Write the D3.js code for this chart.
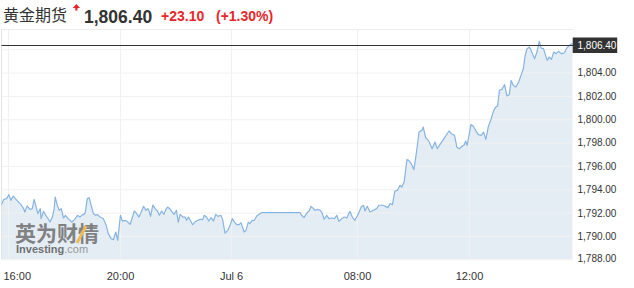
<!DOCTYPE html>
<html>
<head>
<meta charset="utf-8">
<script src="https://cdn.jsdelivr.net/npm/d3@7/dist/d3.min.js"></script>
<style>
  html, body { margin: 0; padding: 0; background: #fff; }
  svg { display: block; }
  text { font-family: "Liberation Sans", Arial, sans-serif; }
  .grid line { stroke: #f1f1f1; }
  .grid path { display: none; }
</style>
</head>
<body>
<svg id="chart" width="634" height="288"></svg>
<script>
// Intraday gold futures quotes, Jul 5 15:46 -> Jul 6 15:41 (local time).
const times = [
  '15:46','15:51','15:57','16:02','16:06','16:11','16:19','16:26','16:33','16:36',
  '16:41','16:47','16:52','16:56','17:01','17:04','17:09','17:11','17:16','17:21',
  '17:25','17:30','17:35','17:39','17:41','17:46','17:50','17:54','17:59','18:03',
  '18:09','18:17','18:24','18:29','18:34','18:40','18:45','18:50','18:54','18:58',
  '19:03','19:08','19:12','19:17','19:24','19:30','19:35','19:41','19:46','19:51',
  '19:55','20:01','20:05','20:11','20:17','20:22','20:27','20:31','20:36','20:41',
  '20:45','20:51','20:56','21:00','21:03','21:06','21:11','21:16','21:21','21:25',
  '21:30','21:35','21:39','21:43','21:48','21:53','21:57','22:02','22:06','22:10',
  '22:16','22:21','22:24','22:28','22:34','22:37','22:42','22:48','22:54','22:59',
  '23:02','23:07','23:12','23:17','23:22','23:27','23:32','23:38','23:42','23:47',
  '23:53','23:58','00:05','00:13','00:22','00:31','00:38','00:50','00:57','01:06',
  '01:12','01:21','01:29','01:38','01:50','01:57','04:23','04:29','04:38','04:45',
  '04:52','04:57','05:05','05:14','05:20','05:30','05:40','05:48','05:55','06:05',
  '06:13','06:24','06:34','06:43','06:51','07:02','07:12','07:21','07:33','07:42',
  '07:52','08:02','08:09','08:14','08:17','08:22','08:28','08:35','08:42','08:47',
  '08:56','09:06','09:11','09:16','09:21','09:27','09:32','09:36','09:41','09:47',
  '09:51','09:56','10:02','10:08','10:13','10:19','10:22','10:27','10:33','10:41',
  '10:47','10:52','10:58','11:05','11:17','11:24','11:29','11:34','11:39','11:46',
  '11:50','11:53','11:56','12:02','12:04','12:09','12:14','12:20','12:26','12:31',
  '12:36','12:41','12:47','12:52','12:57','13:01','13:05','13:10','13:16','13:21',
  '13:26','13:30','13:35','13:40','13:46','13:51','13:56','14:00','14:04','14:09',
  '14:14','14:20','14:25','14:30','14:34','14:39','14:47','14:51','14:56','15:01',
  '15:06','15:11','15:17','15:23','15:29','15:34','15:39','15:41'
];

const prices = [
  1792.69,1793.14,1793.20,1793.54,1793.05,1793.42,1793.05,1792.77,1792.39,1792.05,
  1792.57,1792.28,1792.34,1793.14,1792.39,1791.91,1792.34,1791.49,1792.11,1791.77,
  1791.54,1791.19,1791.62,1792.34,1793.34,1792.57,1792.20,1792.34,1791.54,1791.77,
  1791.49,1791.19,1791.49,1791.77,1791.62,1791.83,1791.91,1793.20,1793.28,1792.63,
  1791.91,1791.77,1791.83,1791.62,1791.49,1790.97,1790.20,1789.77,1789.69,1790.34,
  1789.63,1791.77,1791.28,1791.34,1791.19,1791.00,1791.62,1792.14,1791.91,1791.62,
  1791.97,1792.54,1792.20,1792.34,1792.14,1791.68,1792.65,1792.34,1792.14,1791.77,
  1792.14,1791.85,1792.26,1792.48,1792.31,1792.05,1791.85,1792.20,1791.19,1791.85,
  1791.62,1791.62,1791.34,1791.62,1791.19,1790.97,1791.19,1791.34,1791.43,1791.40,
  1791.77,1791.62,1791.28,1791.57,1791.28,1791.85,1791.68,1791.77,1791.40,1790.25,
  1790.48,1790.91,1791.49,1791.19,1790.97,1790.97,1791.14,1790.34,1790.48,1791.19,
  1791.06,1791.34,1791.34,1791.71,1791.91,1792.00,1792.00,1791.77,1791.57,1791.83,
  1792.05,1792.11,1792.54,1792.34,1792.20,1792.28,1792.20,1791.91,1791.43,1791.77,
  1791.49,1791.54,1791.49,1791.77,1791.25,1791.49,1791.62,1791.54,1792.11,1791.62,
  1791.34,1791.81,1792.48,1792.63,1792.14,1792.54,1792.05,1792.20,1792.34,1792.63,
  1792.63,1792.43,1792.77,1792.69,1793.85,1793.91,1794.34,1794.19,1794.62,1796.54,
  1796.48,1796.20,1795.68,1797.34,1798.90,1799.05,1799.33,1798.42,1798.19,1797.48,
  1798.05,1797.48,1797.85,1798.25,1798.99,1798.71,1798.62,1797.62,1797.48,1797.70,
  1797.82,1798.13,1797.76,1799.05,1799.54,1799.42,1799.05,1798.68,1798.62,1798.90,
  1798.28,1799.33,1799.99,1800.68,1801.04,1801.13,1802.48,1802.56,1802.96,1801.99,
  1802.11,1803.33,1802.90,1802.76,1803.19,1803.76,1804.33,1805.47,1806.05,1806.18,
  1805.76,1805.19,1805.76,1806.67,1806.10,1806.05,1805.04,1805.33,1805.13,1805.76,
  1805.62,1805.82,1805.62,1805.67,1806.10,1806.33,1806.48,1806.40
];

const tickTimes = ['2021-07-05 16:00', '2021-07-05 20:00', '2021-07-06 00:00',
                   '2021-07-06 08:00', '2021-07-06 12:00'];
const tickLabels = ['16:00', '20:00', 'Jul 6', '08:00', '12:00'];
const priceTicks = [1788, 1790, 1792, 1794, 1796, 1798, 1800, 1802, 1804, 1806];

const title = '黄金期货';
const lastLabel = '1,806.40';
const changeLabel = '+23.10';
const changePctLabel = '(+1.30%)';

// ---------------------------------------------------------------------------

const parse = d3.timeParse('%Y-%m-%d %H:%M');

// Times only carry HH:MM; roll the day over whenever the clock goes backwards.
let day = 5, prevMin = -1;
const data = times.map((t, i) => {
  const [h, m] = t.split(':').map(Number);
  if (h * 60 + m < prevMin) day++;
  prevMin = h * 60 + m;
  return {t: parse(`2021-07-0${day} ${t}`), v: prices[i]};
});
const last = data[data.length - 1];

const plot = {left: 1.5, right: 573, top: 29.5, bottom: 259.3};
const svg = d3.select('#chart');

// The source axis is not linear in time (overnight session is squeezed), so
// use a piecewise scale pinned at the labelled ticks.
const tickDates = tickTimes.map(parse);
const x = d3.scaleTime()
    .domain([data[0].t, ...tickDates, last.t])
    .range([plot.left, 8, 120, 231, 357, 469, plot.right - 0.5]);

const y = d3.scaleLinear().domain([1788, 1807.69]).range([plot.bottom, plot.top]);

// Area + line.
svg.append('path')
    .datum(data)
    .attr('fill', '#e5edf4')
    .attr('d', d3.area().x(d => x(d.t)).y0(plot.bottom).y1(d => y(d.v)));

// Gridlines are reversed axis ticks. The top grid label sits under the
// last-price tag, so it is left blank.
const yAxis = svg.append('g')
    .attr('class', 'grid')
    .attr('transform', `translate(${plot.right},0)`)
    .call(d3.axisRight(y)
              .tickValues(priceTicks)
              .tickSize(-(plot.right - plot.left))
              .tickPadding(4.5)
              .tickFormat(d => Math.abs(y(d) - y(last.v)) < 10 ?
                  '' : d3.format(',.2f')(d)));
yAxis.selectAll('text')
    .attr('fill', '#333')
    .style('font-size', '10px')
    .attr('dy', d => (Math.min(0, 257.7 - y(d)) + 3.4) + 'px');

const xAxis = svg.append('g')
    .attr('class', 'grid')
    .attr('transform', `translate(0,${plot.bottom})`)
    .call(d3.axisBottom(x)
              .tickValues(tickDates)
              .tickSize(-(plot.bottom - plot.top))
              .tickPadding(13)
              .tickFormat((d, i) => tickLabels[i]));
xAxis.selectAll('text')
    .attr('fill', '#333')
    .style('font-size', '11px')
    .each(function(d) {
      // keep the first label inside the frame
      const w = this.getComputedTextLength();
      if (x(d) - w / 2 < 3) d3.select(this).attr('x', 3 - x(d) + w / 2);
    });

// Frame edges.
svg.append('line')
    .attr('x1', plot.left).attr('x2', plot.left)
    .attr('y1', plot.top).attr('y2', plot.bottom)
    .attr('stroke', '#e3e3e3');
svg.append('line')
    .attr('x1', plot.left).attr('x2', plot.right)
    .attr('y1', plot.top).attr('y2', plot.top)
    .attr('stroke', '#ececec');

svg.append('path')
    .datum(data)
    .attr('fill', 'none')
    .attr('stroke', '#86b4e2')
    .attr('stroke-width', 1.2)
    .attr('stroke-linejoin', 'round')
    .attr('d', d3.line().x(d => x(d.t)).y(d => y(d.v)));

// Last price marker line + tag.
const yl = Math.round(y(last.v)) + 0.5;
svg.append('line')
    .attr('x1', plot.left).attr('x2', plot.right).attr('y1', yl).attr('y2', yl)
    .attr('stroke', '#333');
svg.append('rect')
    .attr('x', plot.right - 0.3).attr('y', yl - 8)
    .attr('width', 44.5).attr('height', 15.5)
    .attr('fill', '#333');
svg.append('text')
    .attr('x', plot.right + 4.5).attr('y', yl + 3.5)
    .attr('fill', '#fff')
    .style('font-size', '10px')
    .text(d3.format(',.2f')(last.v));

// Watermark.
const wm = svg.append('g').attr('opacity', 0.85);
wm.append('text')
    .attr('x', 15).attr('y', 241)
    .attr('fill', '#6f6f6f')
    .style('font-family', '"Noto Sans CJK SC"')
    .style('font-weight', 'bold')
    .style('font-size', '21px')
    .text('英为财情');
wm.append('path')
    .attr('d', 'M77,243 L86,226')
    .attr('stroke', '#f0b43c')
    .attr('stroke-width', 3);
const inv = wm.append('text')
    .attr('x', 16).attr('y', 253)
    .style('font-size', '11px');
inv.append('tspan').attr('fill', '#5c5c5c').style('font-weight', 'bold').text('Investing');
inv.append('tspan').attr('fill', '#8a8a8a').text('.com');

// Header.
svg.append('text')
    .attr('x', 3).attr('y', 21)
    .attr('fill', '#333')
    .style('font-family', '"Noto Sans CJK SC"')
    .style('font-size', '16px')
    .text(title);
svg.append('path')
    .attr('d', 'M72.7,8 L76.4,4 L80.1,8 L77.5,8 L77.5,10.5 L75.3,10.5 L75.3,8 Z')
    .attr('fill', '#e8262b');
svg.append('text')
    .attr('x', 84).attr('y', 22.7)
    .attr('fill', '#333')
    .style('font-weight', 'bold')
    .style('font-size', '17.5px')
    .text(lastLabel);
svg.append('text')
    .attr('x', 161).attr('y', 21.3)
    .attr('fill', '#e8262b')
    .style('font-weight', 'bold')
    .style('font-size', '14px')
    .text(changeLabel);
svg.append('text')
    .attr('x', 216).attr('y', 21.3)
    .attr('fill', '#e8262b')
    .style('font-weight', 'bold')
    .style('font-size', '14px')
    .text(changePctLabel);
</script>
</body>
</html>
